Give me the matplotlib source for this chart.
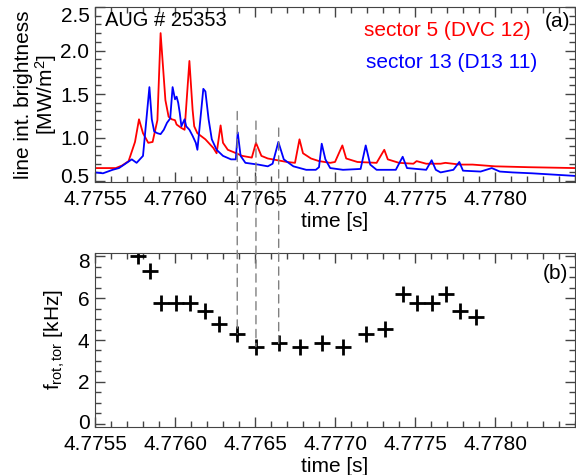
import numpy as np
import matplotlib
matplotlib.use("Agg")
import matplotlib.pyplot as plt
import matplotlib.transforms as mtransforms
from matplotlib.patches import ConnectionPatch
from matplotlib.ticker import MultipleLocator

plt.rcParams['font.family'] = ['Liberation Sans', 'DejaVu Sans']
plt.rcParams['font.size'] = 15
plt.rcParams['mathtext.fontset'] = 'custom'
plt.rcParams['mathtext.rm'] = 'Liberation Sans'
plt.rcParams['mathtext.it'] = 'Liberation Sans'

# sector 5 (DVC 12), red: polyline vertices
t_red = [4.77550, 4.77563, 4.77567, 4.77571, 4.77575, 4.775775, 4.77580, 4.775833,
         4.77586, 4.77589, 4.77591, 4.77594, 4.77596, 4.77598, 4.77600, 4.77601,
         4.77604, 4.77606, 4.77609, 4.77611, 4.77612, 4.77614, 4.77619, 4.77624,
         4.77626, 4.776285, 4.77630, 4.77633, 4.77637, 4.77642, 4.77648, 4.776506,
         4.77654, 4.77658, 4.77664, 4.77670, 4.77675, 4.776778, 4.77680, 4.77685,
         4.77690, 4.77697, 4.77700, 4.777046, 4.77707, 4.77714, 4.77726, 4.777308,
         4.77733, 4.77740, 4.77749, 4.77751, 4.77757, 4.77766, 4.77769, 4.77778,
         4.77786, 4.77800, 4.77821, 4.77850]
v_red = [0.65, 0.65, 0.68, 0.73, 0.95, 1.21, 1.05, 0.94,
         0.95, 1.20, 2.20, 1.43, 1.24, 1.21, 1.20, 1.15,
         1.11, 1.09, 1.88, 1.32, 1.13, 1.05, 0.98, 0.88,
         0.82, 1.14, 0.94, 0.86, 0.83, 0.79, 0.77, 0.94,
         0.79, 0.76, 0.74, 0.72, 0.71, 0.98, 0.82, 0.76,
         0.73, 0.71, 0.72, 0.91, 0.76, 0.72, 0.71, 0.86,
         0.75, 0.71, 0.70, 0.73, 0.70, 0.70, 0.71, 0.69,
         0.69, 0.67, 0.66, 0.65]

# sector 13 (D13 11), blue
t_blue = [4.77550, 4.77555, 4.77561, 4.77565, 4.77573, 4.77576, 4.77580, 4.77584,
          4.775855, 4.77587, 4.77589, 4.77591, 4.77593, 4.77595, 4.77597, 4.775985,
          4.77600, 4.77601, 4.77602, 4.77603, 4.77604, 4.77606, 4.77607, 4.77609,
          4.77611, 4.77613, 4.77614, 4.776177, 4.77619, 4.77621, 4.77623, 4.77626,
          4.77630, 4.77635, 4.77638, 4.776392, 4.77641, 4.77644, 4.77652, 4.77658,
          4.77661, 4.776646, 4.77668, 4.77674, 4.77682, 4.77688, 4.77690, 4.776917,
          4.77694, 4.77697, 4.77705, 4.77716, 4.777192, 4.77722, 4.77726, 4.77738,
          4.777423, 4.77745, 4.77757, 4.777604, 4.77763, 4.77766, 4.77774, 4.777777,
          4.77780, 4.77791, 4.77798, 4.77803, 4.77811, 4.77823, 4.77850]
v_blue = [0.60, 0.59, 0.63, 0.65, 0.75, 0.71, 0.79, 1.58,
          1.21, 1.07, 1.05, 1.04, 1.09, 1.17, 1.22, 1.58,
          1.44, 1.47, 1.40, 1.28, 1.13, 1.21, 1.13, 1.09,
          1.02, 0.94, 0.86, 1.56, 1.53, 1.21, 0.98, 0.86,
          0.79, 0.75, 0.75, 1.06, 0.79, 0.71, 0.69, 0.67,
          0.70, 0.95, 0.75, 0.67, 0.63, 0.63, 0.66, 0.93,
          0.75, 0.65, 0.63, 0.64, 0.91, 0.69, 0.63, 0.63,
          0.78, 0.65, 0.63, 0.74, 0.63, 0.60, 0.63, 0.72,
          0.62, 0.61, 0.65, 0.61, 0.60, 0.59, 0.56]

# toroidal rotation frequency
t_rot = [4.775771, 4.775844, 4.775913, 4.776004, 4.776094, 4.776188, 4.776277,
         4.776389, 4.776506, 4.776648, 4.776781, 4.776921, 4.777052, 4.777194,
         4.777315, 4.777427, 4.777510, 4.777604, 4.777692, 4.777781, 4.777879]
f_rot = [8.0, 7.3, 5.75, 5.75, 5.75, 5.4, 4.76,
         4.29, 3.68, 3.84, 3.68, 3.84, 3.68, 4.29,
         4.52, 6.19, 5.78, 5.78, 6.19, 5.4, 5.08]

# dashed connectors: time, top end (brightness), bottom end (frequency)
t_dash = [4.776389, 4.776506, 4.776648]
top_dash = [1.30, 1.19, 1.11]
bot_dash = [4.29, 3.68, 3.84]

xticks = [4.7755, 4.7760, 4.7765, 4.7770, 4.7775, 4.7780]
xticklabels = ["4.7755", "4.7760", "4.7765", "4.7770", "4.7775", "4.7780"]

fig = plt.figure(figsize=(5.76, 4.75), dpi=100)
ax1 = fig.add_axes([95/576, 1-182/475, 480/576, 175/475])
ax2 = fig.add_axes([95/576, 1-427/475, 480/576, 174/475])

ax1.plot(t_red, v_red, color='#ff0000', lw=1.3)
ax1.plot(t_blue, v_blue, color='#0000ff', lw=1.3)
ax1.set_ylim(0.49, 2.5)
ax1.set_yticks([0.5, 1.0, 1.5, 2.0, 2.5])
ax1.set_yticklabels(["0.5", "1.0", "1.5", "2.0", "2.5"])
ax1.yaxis.set_minor_locator(MultipleLocator(0.1))
ax1.set_ylabel("line int. brightness\n[MW/m$^2$]", linespacing=1.0, labelpad=1)

ax2.plot(t_rot, f_rot, ls='none', marker='+', color='black', ms=11, mew=2)
ax2.set_ylim(-0.15, 8.15)
ax2.set_yticks([0, 2, 4, 6, 8])
ax2.yaxis.set_minor_locator(MultipleLocator(0.5))
ax2.set_ylabel(r"f$_{\rm rot,tor}$ [kHz]", labelpad=8)

for ax in (ax1, ax2):
    ax.set_xlim(4.7755, 4.7785)
    ax.set_xticks(xticks)
    ax.set_xticklabels(xticklabels)
    ax.xaxis.set_minor_locator(MultipleLocator(0.0001))
    ax.set_xlabel("time [s]", labelpad=2)
    ax.tick_params(which='both', direction='in', top=True, right=True, color='#444444')
    ax.tick_params(which='major', length=7, width=1)
    ax.tick_params(axis='x', which='major', pad=6)
    ax.tick_params(axis='y', which='major', pad=4)
    ax.tick_params(which='minor', length=4, width=1)
    for s in ax.spines.values():
        s.set_color('#444444')

# end labels sit a little inside the frame, as in the original
def nudge(label, dy):
    label.set_transform(label.get_transform() +
                        mtransforms.ScaledTranslation(0, dy / 100, fig.dpi_scale_trans))

ylab1 = ax1.yaxis.get_majorticklabels()
nudge(ylab1[0], 6)
nudge(ylab1[-1], -7)
ylab2 = ax2.yaxis.get_majorticklabels()
nudge(ylab2[0], 2)
nudge(ylab2[-1], -4)

ax1.text(0.021, 0.925, "AUG # 25353", transform=ax1.transAxes, ha='left', va='center', fontsize=14.5)
ax1.text(0.99, 0.915, "(a)", transform=ax1.transAxes, ha='right', va='center')
ax1.text(0.908, 0.865, "sector 5 (DVC 12)", transform=ax1.transAxes, ha='right', va='center', color='#ff0000')
ax1.text(0.922, 0.685, "sector 13 (D13 11)", transform=ax1.transAxes, ha='right', va='center', color='#0000ff')
ax2.text(0.985, 0.885, "(b)", transform=ax2.transAxes, ha='right', va='center')

for t, ytop, ybot in zip(t_dash, top_dash, bot_dash):
    con = ConnectionPatch(xyA=(t, ytop), coordsA=ax1.transData,
                          xyB=(t, ybot), coordsB=ax2.transData,
                          color='#808080', lw=1, ls=(0, (6, 4)))
    fig.add_artist(con)

plt.savefig("out.png", dpi=100)
